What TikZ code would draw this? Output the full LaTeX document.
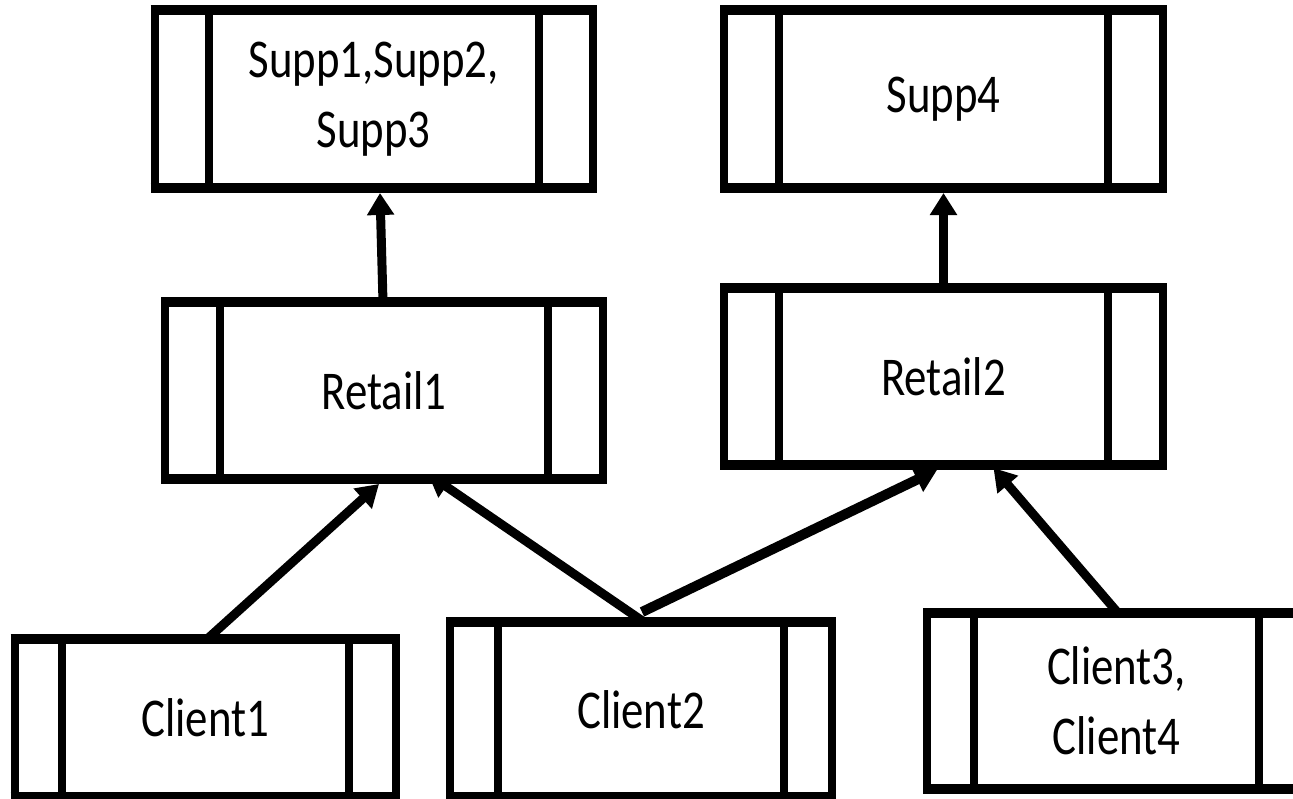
\documentclass[tikz,border=0pt]{standalone}
\usepackage{fontspec}
\setmainfont{Carlito}[FakeStretch=0.82]
\usetikzlibrary{arrows.meta}
\begin{document}
\begin{tikzpicture}[x=0.75pt, y=-0.75pt,
  box/.style={rectangle, draw, line width=6pt, outer sep=0pt, inner sep=0pt, align=center,
    font=\fontsize{41}{52.5}\selectfont},
  bar/.style={line width=6pt},
  edge/.style={line width=7.5pt},
  arr/.style={line width=6.75pt, -{Triangle[length=16.5pt, width=19.5pt]}}]
\clip (0,0) rectangle (1293,799);
\fill[white] (0,0) rectangle (1293,799);
\node[box, minimum width=438.5*0.75pt, minimum height=177.5*0.75pt] (s1) at (373.75,99.25) {Supp1,Supp2,\\Supp3};
\node[box, minimum width=439*0.75pt, minimum height=177.5*0.75pt] (s4) at (943.5,99.25) {Supp4};
\node[box, minimum width=438*0.75pt, minimum height=177*0.75pt] (r1) at (384,390.5) {Retail1};
\node[box, minimum width=439*0.75pt, minimum height=177*0.75pt] (r2) at (943.5,376.5) {Retail2};
\node[box, minimum width=381.5*0.75pt, minimum height=158*0.75pt] (c1) at (205.25,718) {Client1};
\node[box, minimum width=382*0.75pt, minimum height=175*0.75pt] (c2) at (641,709.5) {Client2};
\node[box, minimum width=379*0.75pt, minimum height=176*0.75pt] (c3) at (1116.5,701) {Client3,\\Client4};
\foreach \n/\d in {s1/54.5,s4/55,r1/55,r2/55,c1/47.5,c2/48,c3/47}{
  \draw[bar] ([shift={(\d,0)}]\n.north west) -- ([shift={(\d,0)}]\n.south west);
  \draw[bar] ([shift={(-\d,0)}]\n.north east) -- ([shift={(-\d,0)}]\n.south east);
  \draw[edge] ([shift={(-4,0)}]\n.north west) -- ([shift={(4,0)}]\n.north east);
  \draw[edge] ([shift={(-4,0)}]\n.south west) -- ([shift={(4,0)}]\n.south east);
}
\draw[arr] ([shift={(-1,0)}]r1.north) -- ([shift={(6.25,5)}]s1.south);
\draw[arr] (r2.north) -- ([shift={(0,5)}]s4.south);
\draw[arr] ([shift={(2,0)}]c1.north) -- ([shift={(-5,5)}]r1.south);
\draw[arr] ([shift={(3,0)}]c2.north) -- ([shift={(44,-5)}]r1.south);
\draw[arr, line width=7.5pt] ([shift={(1,-10)}]c2.north) -- ([shift={(-6.5,5)}]r2.south);
\draw[arr] ([shift={(1.5,0)}]c3.north) -- ([shift={(50,3)}]r2.south);
\end{tikzpicture}
\end{document}
